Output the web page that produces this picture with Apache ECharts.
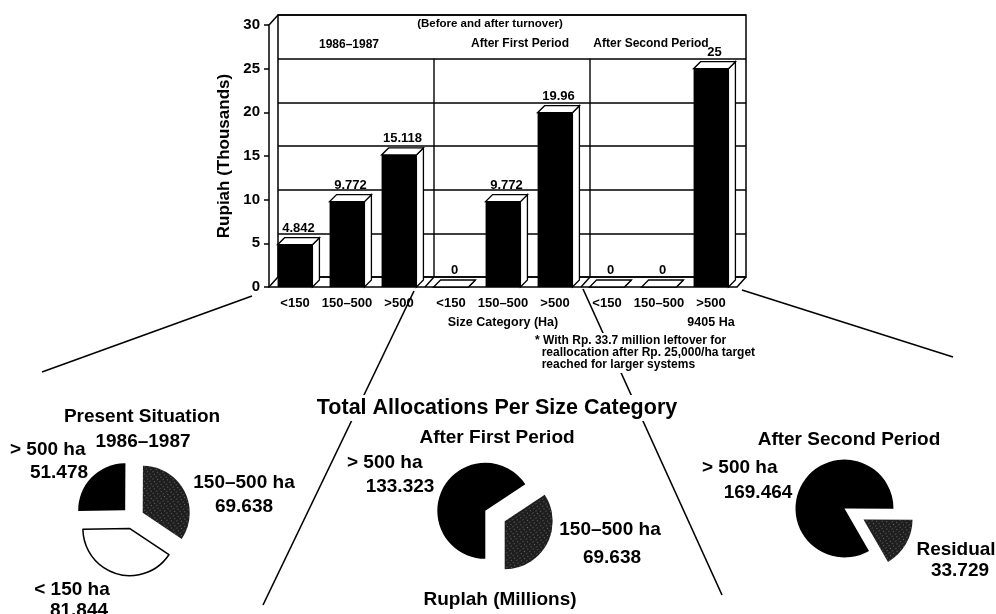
<!DOCTYPE html>
<html>
<head>
<meta charset="utf-8">
<title>Allocations per size category</title>
<script src="https://cdn.jsdelivr.net/npm/echarts@6/dist/echarts.min.js"></script>
<style>
  html, body { margin: 0; padding: 0; background: #fff; }
  #chart { width: 996px; height: 614px; }
</style>
</head>
<body>
<div id="chart"></div>
<script>
// ---- data ----
const sizeCats = ['<150', '150–500', '>500', '<150', '150–500', '>500', '<150', '150–500', '>500'];
const periodHeads = ['1986–1987', 'After First Period', 'After Second Period'];
const perHa = [4.842, 9.772, 15.118, 0, 9.772, 19.96, 0, 0, 25];   // Rupiah (thousands) per ha
const yTicks = { min: 0, max: 30, step: 5 };

const presentNames = ['> 500 ha', '150–500 ha', '< 150 ha'];
const presentVals = [51.478, 69.638, 81.844];
const firstNames = ['> 500 ha', '150–500 ha'];
const firstVals = [133.323, 69.638];
const secondNames = ['> 500 ha', 'Residual'];
const secondVals = [169.464, 33.729];

const footnote = [
  '* With Rp. 33.7 million leftover for',
  '  reallocation after Rp. 25,000/ha target',
  '  reached for larger systems'
];

// ---- layout ----
const FONT = '"Liberation Sans", Arial, sans-serif';
const front = { left: 269, top: 25, width: 468, height: 262 };
const wall = { dx: 9, dy: -10 };        // depth of the back wall
const barDepth = { dx: 7, dy: -7 };      // depth of each bar
const back = { left: front.left + wall.dx, top: front.top + wall.dy, width: front.width, height: front.height };

const chart = echarts.init(document.getElementById('chart'), null, { renderer: 'canvas' });

// 3-D looking bar: black front face, white top and side faces
function renderBar(params, api) {
  const i = api.value(0), v = api.value(1);
  const base = api.coord([i, 0]);
  const top = api.coord([i, v]);
  const bw = api.size([1, 0])[0] * 0.67;
  const x0 = base[0] - bw / 2, x1 = base[0] + bw / 2;
  const y0 = base[1], y1 = top[1];
  const dx = barDepth.dx, dy = barDepth.dy;
  const edge = { stroke: '#000', lineWidth: 1.3, fill: '#fff' };
  return {
    type: 'group',
    children: [
      { type: 'polygon', shape: { points: [[x1, y0], [x1 + dx, y0 + dy], [x1 + dx, y1 + dy], [x1, y1]] }, style: edge },
      { type: 'polygon', shape: { points: [[x0, y1], [x1, y1], [x1 + dx, y1 + dy], [x0 + dx, y1 + dy]] }, style: edge },
      { type: 'rect', shape: { x: x0, y: y1, width: bw, height: y0 - y1 }, style: { fill: '#000' } },
      { type: 'text', x: base[0] + dx / 2, y: y1 + dy - 3,
        style: { text: String(v), font: 'bold 13px ' + FONT, fill: '#000',
                 align: 'center', verticalAlign: 'bottom', textAlign: 'center', textVerticalAlign: 'bottom' } }
    ]
  };
}

// stippled dark grey fill
const grey = {
  color: '#1e1e1e',
  decal: { symbol: 'circle', symbolSize: 0.9, color: 'rgba(255,255,255,0.75)',
           dashArrayX: [[1, 3], [2, 2]], dashArrayY: [1, 2], rotation: -0.6 }
};
const sliceStyles = {
  '> 500 ha': { color: '#000' },
  '150–500 ha': grey,
  'Residual': grey,
  '< 150 ha': { color: '#fff', borderColor: '#000', borderWidth: 1.5 }
};

function pieSeries(names, vals, center, radius, startAngle) {
  return {
    type: 'pie', center: center, radius: radius, startAngle: startAngle, clockwise: true,
    selectedMode: 'multiple', selectedOffset: 11, avoidLabelOverlap: false,
    label: { show: false }, labelLine: { show: false },
    emphasis: { disabled: true }, silent: true,
    data: vals.map((v, k) => ({ name: names[k], value: v, selected: true, itemStyle: sliceStyles[names[k]] }))
  };
}

// ---- annotations ----
function txt(s, x, y, size, opts) {
  opts = opts || {};
  const al = opts.align || 'center';
  return {
    type: 'text', x: x, y: y, z: 10,
    style: {
      text: s, font: (opts.weight || 'bold') + ' ' + size + 'px ' + FONT, fill: '#000',
      align: al, textAlign: al, verticalAlign: opts.valign || 'middle', textVerticalAlign: opts.valign || 'middle',
      lineHeight: opts.lineHeight,
      backgroundColor: opts.bg ? '#fff' : undefined, padding: opts.bg ? [2, 3] : undefined
    }
  };
}
function seg(x1, y1, x2, y2, w) {
  return { type: 'line', z: 1, shape: { x1: x1, y1: y1, x2: x2, y2: y2 }, style: { stroke: '#000', lineWidth: w || 1.6 } };
}

const fy = front.top + front.height;           // front floor line
const by = back.top + back.height;             // back floor line
const band = front.width / sizeCats.length;
const y25 = back.top + back.height * (1 - 25 / yTicks.max);
const dividers = [3, 6].map(k => {
  const xf = front.left + k * band, xb = xf + wall.dx;
  return [seg(xb, y25, xb, by, 1.4), seg(xf, fy, xb, by, 1.4)];
}).flat();

const graphics = [
  // wall edges
  seg(front.left, front.top, back.left, back.top, 1.5),
  seg(front.left, fy, back.left, by, 1.5),
  seg(front.left + front.width, fy, back.left + back.width, by, 1.5),
  ...dividers,
  // leader lines from the bar panel to the pies
  seg(252, 296, 42, 372),
  seg(414, 291, 263, 605),
  seg(583, 289, 722, 595),
  seg(742, 290, 953, 357),
  // headings inside the panel
  txt('(Before and after turnover)', 490, 24, 11.5),
  txt(periodHeads[0], 349, 45, 12),
  txt(periodHeads[1], 520, 44, 12),
  txt(periodHeads[2], 651, 44, 12),
  txt('9405 Ha', 711, 323, 12.5),
  txt(footnote.join('\n'), 532, 333, 12, { align: 'left', valign: 'top', lineHeight: 12, bg: true }),
  // pie captions
  txt('Total Allocations Per Size Category', 497, 408, 21.5, { bg: true }),
  txt('Present Situation', 142, 417, 19),
  txt('1986–1987', 143, 442, 19),
  txt(presentNames[0], 10, 450, 19, { align: 'left' }),
  txt(String(presentVals[0]), 59, 473, 19),
  txt(presentNames[1], 244, 483, 19),
  txt(String(presentVals[1]), 244, 507, 19),
  txt(presentNames[2], 72, 590, 19),
  txt(String(presentVals[2]), 79, 611, 19),
  txt('After First Period', 497, 438, 19),
  txt(firstNames[0], 347, 463, 19, { align: 'left' }),
  txt(String(firstVals[0]), 400, 487, 19),
  txt(firstNames[1], 610, 530, 19),
  txt(String(firstVals[1]), 612, 558, 19),
  txt('Ruplah (Millions)', 500, 600, 19),
  txt('After Second Period', 849, 440, 19),
  txt(secondNames[0], 702, 468, 19, { align: 'left' }),
  txt(String(secondVals[0]), 758, 493, 19),
  txt(secondNames[1], 956, 550, 19),
  txt(String(secondVals[1]), 960, 571, 19)
];

const axisStroke = { color: '#000', width: 1.5 };

chart.setOption({
  animation: false,
  backgroundColor: '#fff',
  grid: [
    Object.assign({ show: true, borderColor: '#000', borderWidth: 1.5, backgroundColor: 'rgba(0,0,0,0)' }, back),
    Object.assign({}, front)
  ],
  xAxis: [
    { gridIndex: 0, type: 'category', data: sizeCats, show: false },
    {
      gridIndex: 1, type: 'category', data: sizeCats,
      axisLine: { lineStyle: axisStroke },
      axisTick: { alignWithLabel: true, length: 4, lineStyle: axisStroke },
      axisLabel: { interval: 0, margin: 10, color: '#000', fontFamily: FONT, fontWeight: 'bold', fontSize: 13 },
      name: 'Size Category (Ha)', nameLocation: 'middle', nameGap: 29,
      nameTextStyle: { color: '#000', fontFamily: FONT, fontWeight: 'bold', fontSize: 12.5 }
    }
  ],
  yAxis: [
    {
      gridIndex: 0, type: 'value', min: yTicks.min, max: yTicks.max, interval: yTicks.step,
      axisLabel: { show: false }, axisTick: { show: false }, axisLine: { show: false },
      splitLine: { show: true, lineStyle: axisStroke }
    },
    {
      gridIndex: 1, type: 'value', min: yTicks.min, max: yTicks.max, interval: yTicks.step,
      axisLine: { show: true, lineStyle: axisStroke },
      axisTick: { show: true, length: 5, lineStyle: axisStroke },
      splitLine: { show: false },
      axisLabel: { margin: 9, color: '#000', fontFamily: FONT, fontWeight: 'bold', fontSize: 15 },
      name: 'Rupiah (Thousands)', nameLocation: 'middle', nameGap: 36, nameRotate: 90,
      nameTextStyle: { color: '#000', fontFamily: FONT, fontWeight: 'bold', fontSize: 17 }
    }
  ],
  series: [
    {
      type: 'custom', xAxisIndex: 1, yAxisIndex: 1, silent: true,
      data: perHa.map((v, i) => [i, v]),
      renderItem: renderBar, z: 5
    },
    pieSeries(presentNames, presentVals, [133, 518], 47, 181),
    pieSeries(firstNames, firstVals, [495, 516], 48, 270),
    pieSeries(secondNames, secondVals, [854, 514], 49, 300)
  ],
  graphic: graphics
});
</script>
</body>
</html>
